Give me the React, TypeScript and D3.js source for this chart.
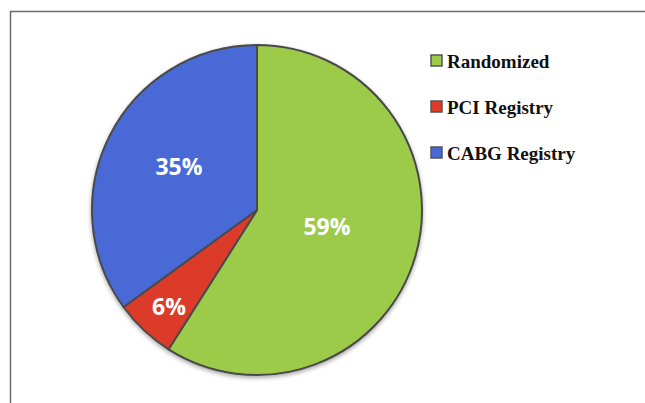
import React from "react";
import * as d3 from "d3";

const categories = ["Randomized", "PCI Registry", "CABG Registry"];
const values = [59, 6, 35];
const colors = ["#9BCB48", "#DC3B29", "#4A69D6"];
const labelPos = [
  [327, 235],
  [169, 315],
  [179, 175],
];

export default function App() {
  const W = 645, H = 403;
  const cx = 257, cy = 210, r = 165;
  const pie = d3.pie<number>().sort(null).value((d) => d)(values);
  const arc = d3.arc<d3.PieArcDatum<number>>().innerRadius(0).outerRadius(r);
  return (
    <svg width={W} height={H} style={{ position: "absolute", left: 0, top: 0 }}>
      <defs>
        <filter id="sh" x="-20%" y="-20%" width="140%" height="140%">
          <feDropShadow dx="0" dy="2" stdDeviation="2" floodColor="#000" floodOpacity="0.35" />
        </filter>
      </defs>
      <rect width={W} height={H} fill="#fff" />
      <path d={`M10.5,${H} V11.5 H${W}`} fill="none" stroke="#6b6b6b" strokeWidth={1.5} />
      <g transform={`translate(${cx},${cy})`} filter="url(#sh)">
        {pie.map((p, i) => (
          <path key={i} d={arc(p) || ""} fill={colors[i]} stroke="#4a4a4a" strokeWidth={2} strokeLinejoin="round" />
        ))}
      </g>
      {pie.map((p, i) => (
        <text key={i} x={labelPos[i][0]} y={labelPos[i][1]} textAnchor="middle" fill="#fff"
          fontFamily="'Open Sans', sans-serif" fontWeight="bold" fontSize={23}>
          {values[i]}%
        </text>
      ))}
      {categories.map((c, i) => (
        <g key={c} transform={`translate(431,${55 + i * 46})`}>
          <rect x={0} y={0} width={11} height={11} fill={colors[i]} stroke="#555" strokeWidth={1.5} />
          <text x={16} y={13} fontFamily="'Liberation Serif', serif" fontWeight="bold" fontSize={19} fill="#111">
            {c}
          </text>
        </g>
      ))}
    </svg>
  );
}
